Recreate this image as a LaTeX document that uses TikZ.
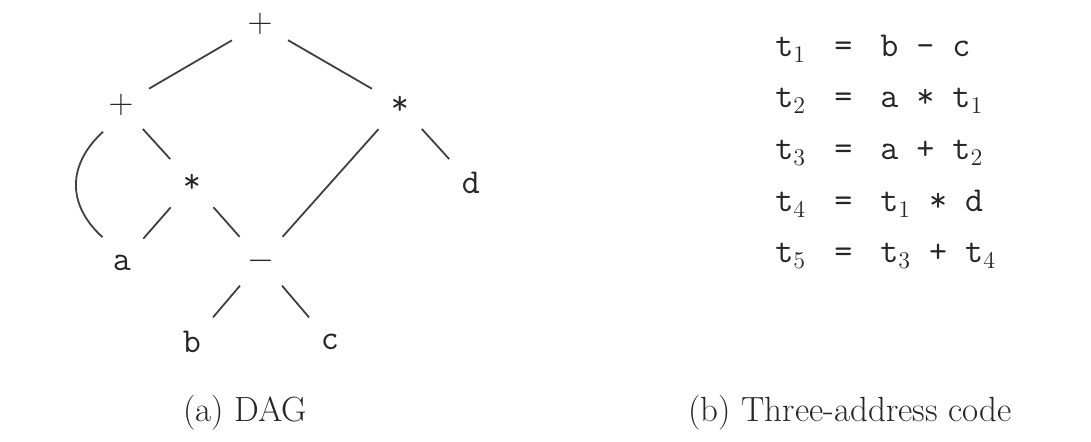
\documentclass[tikz,border=0pt]{standalone}
\usepackage{amsmath}
\newcommand{\tline}[2]{\makebox[29.5pt][l]{#1}\makebox[9pt][c]{=}\hspace{14pt}#2}

\begin{document}
\begin{tikzpicture}[x=0.5pt,y=0.5pt,
                    every node/.style={font=\fontsize{17.5}{21}\selectfont,text=black!85},
                    op/.style={circle,minimum size=32pt,inner sep=0pt},
                    arco/.style={draw=black!75,line width=0.9pt},
                    riga/.style={anchor=base west,inner sep=0pt,
                                 font=\fontsize{17.5}{21}\selectfont\ttfamily}]
  \useasboundingbox (0,0) rectangle (1091,-442);
  % the DAG
  \node[op] (radd) at (260,-24)  {$+$};
  \node[op] (ladd) at (121,-105) {$+$};
  \node[op] (rmul) at (400,-105) {\texttt{*}};
  \node[op] (lmul) at (192,-183) {\texttt{*}};
  \node[op] (d)    at (471,-183) {\texttt{d}};
  \node[op] (a)    at (122,-263) {\texttt{a}};
  \node[op] (sub)  at (261,-261) {$-$};
  \node[op] (b)    at (192,-342) {\texttt{b}};
  \node[op] (c)    at (330,-342) {\texttt{c}};
  \foreach \u/\v in {radd/ladd,radd/rmul,ladd/lmul,lmul/a,lmul/sub,
                     rmul/sub,rmul/d,sub/b,sub/c}
    \draw[arco] (\u) -- (\v);
  \draw[arco] (ladd.236) .. controls (67,-165) and (67,-205) .. (a.127);
  % three-address code
  \node[riga] (t1) at (775,-57)  {\tline{t$_1$}{b - c}};
  \node[riga] (t2) at (775,-108) {\tline{t$_2$}{a * t$_1$}};
  \node[riga] (t3) at (775,-160) {\tline{t$_3$}{a + t$_2$}};
  \node[riga] (t4) at (775,-212) {\tline{t$_4$}{t$_1$ * d}};
  \node[riga] (t5) at (775,-263) {\tline{t$_5$}{t$_3$ + t$_4$}};
  % captions
  \node (capa) at (245,-413) {(a) DAG};
  \node (capb) at (850,-413) {(b) Three-address code};
\end{tikzpicture}
\end{document}
